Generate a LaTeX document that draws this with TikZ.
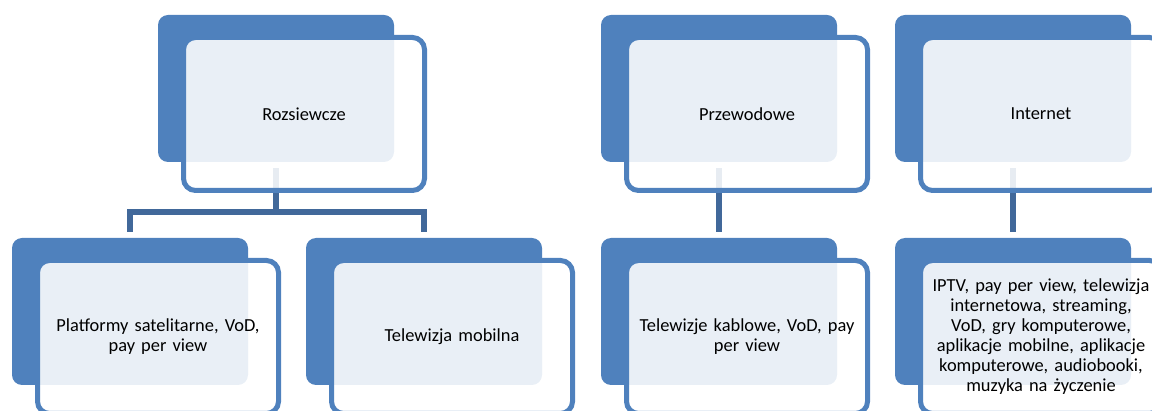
\documentclass[tikz,border=0pt]{standalone}
\usepackage{fontspec}
\setmainfont{Carlito}
\usetikzlibrary{calc}
\definecolor{accblue}{RGB}{79,129,189}
\definecolor{lnkblue}{RGB}{65,104,154}

\begin{document}
\begin{tikzpicture}[x=1pt, y=-1pt,
 back/.style={fill=accblue, rounded corners=10pt, minimum width=236pt, minimum height=147pt, inner sep=0pt},
 front/.style={draw=accblue, line width=5pt, fill=white, fill opacity=.88, draw opacity=1, text opacity=1, rounded corners=12pt, minimum width=241pt, minimum height=153pt, inner sep=0pt, text width=226pt, align=center, font=\fontsize{18.4}{20}\selectfont},
 conn/.style={draw=lnkblue, line width=6pt}]
\useasboundingbox (0,0) rectangle (1152,411);
\foreach \n/\x/\y in {b1/276/88.5, b2/719/88.5, b3/1013/88.5, c1/130/311.5, c2/424/311.5, c3/719/311.5, c4/1013/311.5}{\node[back] (\n) at (\x,\y) {};}
% connectors
\draw[conn] ([yshift=-6pt]b1.south) -- ++(0,44) coordinate (h1);
\draw[conn] (h1) -| ([yshift=6pt]c1.north);
\draw[conn] (h1) -| ([yshift=6pt]c2.north);
\draw[conn] ([yshift=-6pt]b2.south) -- ([yshift=6pt]c3.north);
\draw[conn] ([yshift=-6pt]b3.south) -- ([yshift=6pt]c4.north);
% text boxes
\node[front] (t1) at ([shift={(28,25.5)}]b1.center) {Rozsiewcze};
\node[front] (t2) at ([shift={(28,25.5)}]b2.center) {Przewodowe};
\node[front] (t3) at ([shift={(28,25.5)}]b3.center) {Internet};
\node[front] (u1) at ([shift={(28,25.5)}]c1.center) {Platformy satelitarne, VoD,\\ pay per view};
\node[front] (u2) at ([shift={(28,25.5)}]c2.center) {Telewizja mobilna};
\node[front] (u3) at ([shift={(28,25.5)}]c3.center) {Telewizje kablowe, VoD, pay\\ per view};
\node[front] (u4) at ([shift={(28,25.5)}]c4.center) {IPTV, pay per view, telewizja\\ internetowa, streaming,\\ VoD, gry komputerowe,\\ aplikacje mobilne, aplikacje\\ komputerowe, audiobooki,\\ muzyka na życzenie};
\end{tikzpicture}
\end{document}
